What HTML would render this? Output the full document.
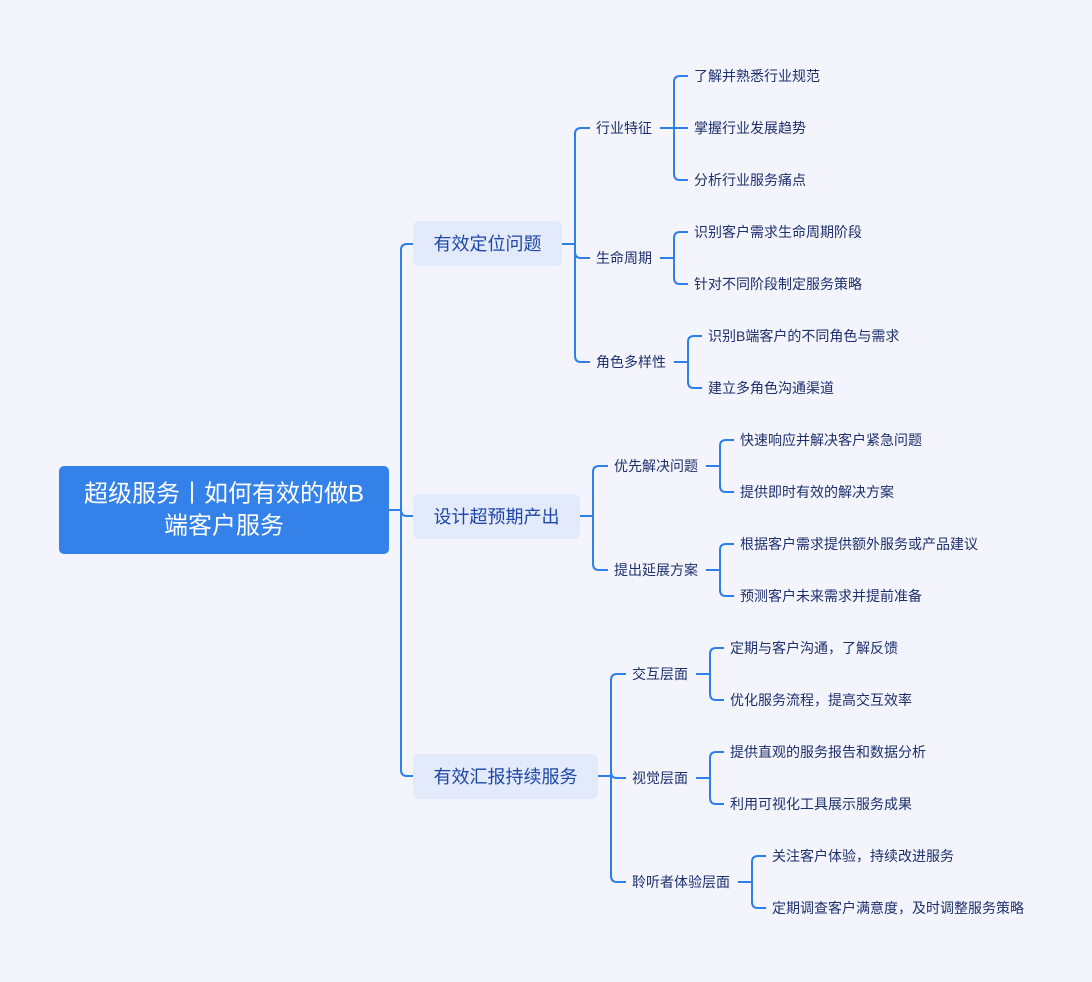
<!DOCTYPE html>
<html><head><meta charset="utf-8"><style>
html,body{margin:0;padding:0;background:#f4f5fc;}
svg{display:block;}
text{font-family:"Liberation Sans","Noto Sans CJK SC",sans-serif;dominant-baseline:central;}
.l{font-size:14px;fill:#1d2f6e;}
.b{font-size:18px;fill:#1e47a8;}
path{fill:none;stroke:#2f7fe8;stroke-width:2;}
</style></head><body>
<svg width="1092" height="982" viewBox="0 0 1092 982">
<rect width="1092" height="982" fill="#f4f5fc"/>
<!-- root -->
<rect x="59" y="466" width="330" height="88" rx="5" fill="#3381e9"/>
<text x="224" y="494" text-anchor="middle" style="font-size:24px;fill:#fff">超级服务丨如何有效的做B</text>
<text x="224" y="526" text-anchor="middle" style="font-size:24px;fill:#fff">端客户服务</text>
<path d="M389,510 H401 M401,510 V250 Q401,244 407,244 H413 M401,510 Q401,516 407,516 H413 M401,510 V770 Q401,776 407,776 H413"/>
<!-- level1 boxes -->
<rect x="413" y="221" width="149" height="45" rx="6" fill="#e2eafc"/>
<text class="b" x="487.5" y="244" text-anchor="middle">有效定位问题</text>
<rect x="413" y="494" width="167" height="45" rx="6" fill="#e2eafc"/>
<text class="b" x="496.5" y="517" text-anchor="middle">设计超预期产出</text>
<rect x="413" y="754" width="185" height="45" rx="6" fill="#e2eafc"/>
<text class="b" x="505.5" y="777" text-anchor="middle">有效汇报持续服务</text>
<!-- box1 -->
<path d="M562,244 H575 M575,244 V134 Q575,128 581,128 H590 M575,244 V252 Q575,258 581,258 H590 M575,244 V356 Q575,362 581,362 H590"/>
<text class="l" x="596" y="128">行业特征</text>
<text class="l" x="596" y="258">生命周期</text>
<text class="l" x="596" y="362">角色多样性</text>
<path d="M660,128 H674 M674,128 V82 Q674,76 680,76 H688 M674,128 H688 M674,128 V174 Q674,180 680,180 H688"/>
<text class="l" x="694" y="76">了解并熟悉行业规范</text>
<text class="l" x="694" y="128">掌握行业发展趋势</text>
<text class="l" x="694" y="180">分析行业服务痛点</text>
<path d="M660,258 H674 M674,258 V238 Q674,232 680,232 H688 M674,258 V278 Q674,284 680,284 H688"/>
<text class="l" x="694" y="232">识别客户需求生命周期阶段</text>
<text class="l" x="694" y="284">针对不同阶段制定服务策略</text>
<path d="M674,362 H688 M688,362 V342 Q688,336 694,336 H702 M688,362 V382 Q688,388 694,388 H702"/>
<text class="l" x="708" y="336">识别B端客户的不同角色与需求</text>
<text class="l" x="708" y="388">建立多角色沟通渠道</text>
<!-- box2 -->
<path d="M580,516 H593 M593,516 V472 Q593,466 599,466 H608 M593,516 V564 Q593,570 599,570 H608"/>
<text class="l" x="614" y="466">优先解决问题</text>
<text class="l" x="614" y="570">提出延展方案</text>
<path d="M706,466 H720 M720,466 V446 Q720,440 726,440 H734 M720,466 V486 Q720,492 726,492 H734"/>
<text class="l" x="740" y="440">快速响应并解决客户紧急问题</text>
<text class="l" x="740" y="492">提供即时有效的解决方案</text>
<path d="M706,570 H720 M720,570 V550 Q720,544 726,544 H734 M720,570 V590 Q720,596 726,596 H734"/>
<text class="l" x="740" y="544">根据客户需求提供额外服务或产品建议</text>
<text class="l" x="740" y="596">预测客户未来需求并提前准备</text>
<!-- box3 -->
<path d="M598,776 H611 M611,776 V680 Q611,674 617,674 H626 M611,776 V772 Q611,778 617,778 H626 M611,776 V876 Q611,882 617,882 H626"/>
<text class="l" x="632" y="674">交互层面</text>
<text class="l" x="632" y="778">视觉层面</text>
<text class="l" x="632" y="882">聆听者体验层面</text>
<path d="M696,674 H710 M710,674 V654 Q710,648 716,648 H724 M710,674 V694 Q710,700 716,700 H724"/>
<text class="l" x="730" y="648">定期与客户沟通，了解反馈</text>
<text class="l" x="730" y="700">优化服务流程，提高交互效率</text>
<path d="M696,778 H710 M710,778 V758 Q710,752 716,752 H724 M710,778 V798 Q710,804 716,804 H724"/>
<text class="l" x="730" y="752">提供直观的服务报告和数据分析</text>
<text class="l" x="730" y="804">利用可视化工具展示服务成果</text>
<path d="M738,882 H752 M752,882 V862 Q752,856 758,856 H766 M752,882 V902 Q752,908 758,908 H766"/>
<text class="l" x="772" y="856">关注客户体验，持续改进服务</text>
<text class="l" x="772" y="908">定期调查客户满意度，及时调整服务策略</text>
</svg>
</body></html>
